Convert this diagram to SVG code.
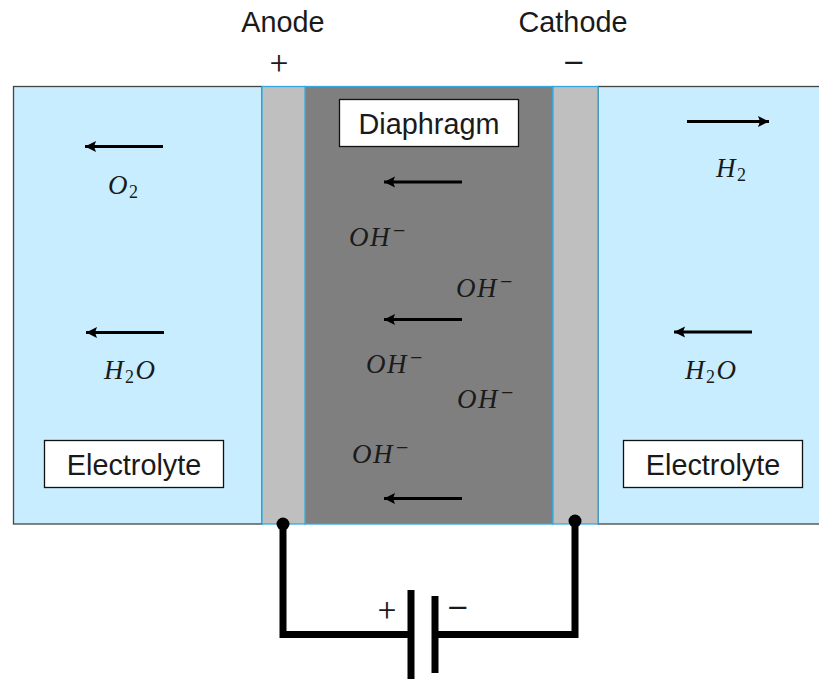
<svg xmlns="http://www.w3.org/2000/svg" width="819" height="679" viewBox="0 0 819 679">
<style>
.lbl{font-family:"Liberation Sans",Arial,sans-serif;font-size:28.8px;fill:#1a1a1a}
.sign{font-family:Roboto,"Liberation Sans",sans-serif;font-weight:300;font-size:32px;fill:#1a1a1a}
.minus{font-size:42px}
.m{font-family:"Liberation Serif",serif;font-style:italic;font-size:27px;letter-spacing:1.500px;fill:#1a1a1a}
.m .s{font-style:normal;font-size:18px}
.m .u{font-style:normal;font-size:22px}
.box{fill:#fff;stroke:#111;stroke-width:1.3}
.elec{fill:#c7edff;stroke:#444;stroke-width:1.3}
.plate{fill:#bfbfbf;stroke:#35a9dc;stroke-width:1.3}
.arr{stroke:#000;stroke-width:3.200;fill:none;marker-end:url(#ah)}
.wire{stroke:#000;stroke-width:7;fill:none}
</style>
<defs>
<marker id="ah" markerUnits="userSpaceOnUse" markerWidth="12" markerHeight="12" refX="11" refY="6" orient="auto">
<path d="M0 0.500 L11 6 L0 11.500 L2 6 Z" fill="#000"/>
</marker>
</defs>
<rect width="819" height="679" fill="#fff"/>
<g id="electrolyte-left"><rect class="elec" x="13.500" y="86.500" width="248.500" height="437.500"/></g>
<g id="electrolyte-right"><rect class="elec" x="598" y="86.500" width="223" height="437.500"/></g>
<g id="diaphragm-body"><rect x="305" y="86.500" width="248" height="437.500" fill="#7f7f7f" stroke="#35a9dc" stroke-width="1.300"/></g>
<g id="anode"><rect class="plate" x="262" y="86.500" width="43" height="437.500"/></g>
<g id="cathode"><rect class="plate" x="553" y="86.500" width="45" height="437.500"/></g>
<g id="anode-label"><text class="lbl" x="283" y="31.500" text-anchor="middle">Anode</text><text class="sign" x="279" y="74" text-anchor="middle">+</text></g>
<g id="cathode-label"><text class="lbl" x="573" y="31.500" text-anchor="middle">Cathode</text><text class="sign minus" x="574" y="78" text-anchor="middle">−</text></g>
<g id="diaphragm-label"><rect class="box" x="339.500" y="99.500" width="179" height="47"/><text class="lbl" x="429" y="133.500" text-anchor="middle">Diaphragm</text></g>
<g id="electrolyte-label-left"><rect class="box" x="44.500" y="440.500" width="179" height="47"/><text class="lbl" x="134" y="474.500" text-anchor="middle">Electrolyte</text></g>
<g id="electrolyte-label-right"><rect class="box" x="623.500" y="440.500" width="179" height="47"/><text class="lbl" x="713" y="474.500" text-anchor="middle">Electrolyte</text></g>
<g id="formulas">
<text class="m" x="108" y="194">O<tspan class="s" dy="4">2</tspan></text>
<text class="m" x="716" y="177">H<tspan class="s" dy="4">2</tspan></text>
<text class="m" x="104" y="379">H<tspan class="s" dy="4">2</tspan><tspan dy="-4">O</tspan></text>
<text class="m" x="685" y="379">H<tspan class="s" dy="4">2</tspan><tspan dy="-4">O</tspan></text>
<text class="m" x="349" y="246">OH<tspan class="u" dx="2" dy="-8">−</tspan></text>
<text class="m" x="456" y="297">OH<tspan class="u" dx="2" dy="-8">−</tspan></text>
<text class="m" x="366" y="373">OH<tspan class="u" dx="2" dy="-8">−</tspan></text>
<text class="m" x="457" y="408">OH<tspan class="u" dx="2" dy="-8">−</tspan></text>
<text class="m" x="352" y="463">OH<tspan class="u" dx="2" dy="-8">−</tspan></text>
</g>
<g id="connectors">
<path class="arr" d="M163 146.500H85"/>
<path class="arr" d="M164 332.500H86"/>
<path class="arr" d="M462 182H384"/>
<path class="arr" d="M462 319.500H384"/>
<path class="arr" d="M462 498.500H384"/>
<path class="arr" d="M687 121.500H769"/>
<path class="arr" d="M752 332H674"/>
<path class="wire" d="M283 524V634.500H411"/>
<path class="wire" d="M575 521V634.500H435"/>
<path class="wire" d="M411 590V679"/>
<path class="wire" d="M435 596V673"/>
<circle cx="283" cy="524" r="6.500" fill="#000"/>
<circle cx="575" cy="521" r="6.500" fill="#000"/>
</g>
<g id="battery-signs"><text class="sign" x="387" y="621" text-anchor="middle">+</text><text class="sign minus" x="458" y="623" text-anchor="middle">−</text></g>
</svg>
